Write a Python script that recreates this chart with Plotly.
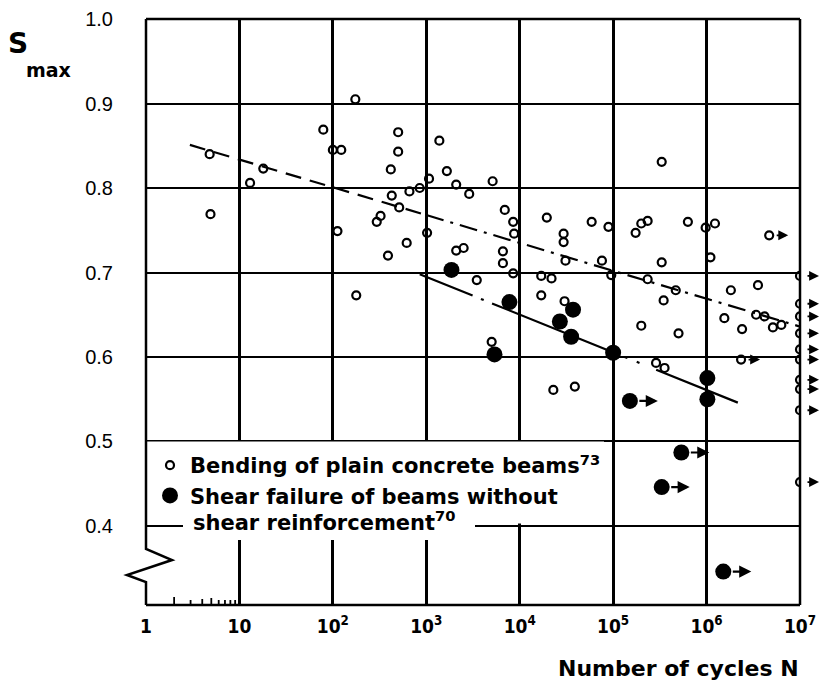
import numpy as np
import plotly.graph_objects as go

# ---------------- data ----------------
# Bending of plain concrete beams (ref 73): failures
bend_N = [4.8, 4.9, 18, 13, 79, 100, 123, 174, 112, 178,
          500, 500, 417, 1380, 1660, 1070, 850, 660, 427, 513,
          2090, 2880, 5130, 324, 295, 1020, 617, 389, 6920, 8510,
          8710, 6610, 6610, 8510, 2090, 2510, 3470, 19500, 17000, 21900,
          17000, 331000, 58900, 89100, 29500, 29500, 174000, 200000, 234000, 631000,
          977000, 1230000, 1100000, 30900, 75900, 331000, 95500, 234000, 468000, 347000,
          1820000, 1550000, 30200, 200000, 501000, 2400000, 3550000, 3390000, 4170000, 5130000,
          6310000, 5010, 288000, 355000, 22900, 38900]
bend_S = [0.840, 0.769, 0.823, 0.806, 0.869, 0.845, 0.845, 0.905, 0.749, 0.673,
          0.866, 0.843, 0.822, 0.856, 0.820, 0.811, 0.800, 0.796, 0.791, 0.777,
          0.804, 0.793, 0.808, 0.767, 0.760, 0.747, 0.735, 0.720, 0.774, 0.760,
          0.746, 0.725, 0.711, 0.699, 0.726, 0.729, 0.691, 0.765, 0.696, 0.693,
          0.673, 0.831, 0.760, 0.754, 0.746, 0.736, 0.747, 0.758, 0.761, 0.760,
          0.753, 0.758, 0.718, 0.714, 0.714, 0.712, 0.697, 0.692, 0.679, 0.667,
          0.679, 0.646, 0.666, 0.637, 0.628, 0.633, 0.685, 0.650, 0.648, 0.635,
          0.638, 0.618, 0.593, 0.587, 0.561, 0.565]
# Bending: run-outs (no failure, arrow)
bend_run_N = [4680000, 2340000, 1e7, 1e7, 1e7, 1e7, 1e7, 1e7, 1e7, 1e7, 1e7, 1e7]
bend_run_S = [0.744, 0.597, 0.696, 0.663, 0.648, 0.628, 0.609, 0.597, 0.573, 0.562, 0.537, 0.452]

# Shear failure of beams without shear reinforcement (ref 70)
shear_N = [1860, 7760, 37200, 26900, 35500, 100000, 5370, 1020000, 1020000]
shear_S = [0.703, 0.665, 0.656, 0.642, 0.624, 0.605, 0.603, 0.575, 0.550]
shear_run_N = [151000, 537000, 331000, 1510000]
shear_run_S = [0.548, 0.487, 0.446, 0.346]

# Fitted lines (end points)
bend_fit_a_N = [2.95, 1000]
bend_fit_a_S = [0.851, 0.768]
bend_fit_b_N = [1000, 1e7]
bend_fit_b_S = [0.768, 0.636]
shear_fit_N = [851, 2160000]
shear_fit_S = [0.698, 0.546]

x_tickvals = [1, 10, 100, 1000, 1e4, 1e5, 1e6, 1e7]
x_ticktext = ["1", "10", "10<sup>2</sup>", "10<sup>3</sup>", "10<sup>4</sup>",
              "10<sup>5</sup>", "10<sup>6</sup>", "10<sup>7</sup>"]
y_tickvals = [0.4, 0.5, 0.6, 0.7, 0.8, 0.9, 1.0]
y_ticktext = ["0.4", "0.5", "0.6", "0.7", "0.8", "0.9", "1.0"]

legend_names = ["Bending of plain concrete beams<sup>73</sup>",
                "Shear failure of beams without",
                "shear reinforcement<sup>70</sup>"]

# ---------------- layout geometry ----------------
OFF = 8                      # page body margin
W, H = 815, 675
PL, PT = 146, 19             # plot-area top-left in the screenshot
PW, PH = 654, 586
L, T = PL - OFF, PT - OFF
R, B = W - L - PW, H - T - PH
Y0, Y1 = 0.3065, 1.0


def px_x(p):
    return (p - PL) / PW


def px_y(p):
    return (PT + PH - p) / PH


def px_N(p):
    return 10 ** (7 * (p - PL) / PW)


BOLD = "DejaVu Sans, Verdana, sans-serif"
LEG_SIZE = 21

fig = go.Figure()

fig.add_trace(go.Scatter(
    x=bend_N + bend_run_N, y=bend_S + bend_run_S, mode="markers",
    name=legend_names[0],
    marker=dict(symbol="circle-open", size=8, color="black", line=dict(width=2.2, color="black")),
))
fig.add_trace(go.Scatter(
    x=shear_N + shear_run_N, y=shear_S + shear_run_S, mode="markers",
    name=legend_names[1],
    marker=dict(symbol="circle", size=16, color="black"),
))

fig.add_trace(go.Scatter(x=bend_fit_a_N, y=bend_fit_a_S, mode="lines", showlegend=False,
                         line=dict(color="black", width=2.2, dash="16px,9px")))
fig.add_trace(go.Scatter(x=bend_fit_b_N, y=bend_fit_b_S, mode="lines", showlegend=False,
                         line=dict(color="black", width=2.2, dash="18px,7px,3px,7px")))
fig.add_trace(go.Scatter(x=shear_fit_N, y=shear_fit_S, mode="lines", showlegend=False,
                         line=dict(color="black", width=2.2,
                                   dash="57px,9px,3px,9px,131px,12px,3px,10px,3px,18px,90px")))

annotations = []
for n, s in zip(bend_run_N, bend_run_S):
    annotations.append(dict(x=np.log10(n), y=s, xref="x", yref="y", text="", showarrow=True,
                            ax=-13, ay=0, xshift=19, arrowhead=2, arrowsize=1.1,
                            arrowwidth=1.8, arrowcolor="black"))
for n, s in zip(shear_run_N, shear_run_S):
    annotations.append(dict(x=np.log10(n), y=s, xref="x", yref="y", text="", showarrow=True,
                            ax=-20, ay=0, xshift=28, arrowhead=2, arrowsize=1.1,
                            arrowwidth=2.2, arrowcolor="black"))

annotations += [
    # continuation line of the second legend entry
    dict(x=px_x(191), y=px_y(521), xref="paper", yref="paper", text=legend_names[2],
         showarrow=False, xanchor="left", yanchor="middle",
         font=dict(family=BOLD, size=LEG_SIZE, color="black", weight="bold")),
    dict(x=px_x(18), y=px_y(43), xref="paper", yref="paper", text="S", showarrow=False,
         xanchor="center", yanchor="middle",
         font=dict(family=BOLD, size=28, color="black", weight="bold")),
    dict(x=px_x(48), y=px_y(70), xref="paper", yref="paper", text="max", showarrow=False,
         xanchor="center", yanchor="middle",
         font=dict(family=BOLD, size=19, color="black", weight="bold")),
    dict(x=px_x(801), y=px_y(668), xref="paper", yref="paper", text="Number of cycles N",
         showarrow=False, xanchor="right", yanchor="middle",
         font=dict(family=BOLD, size=22, color="black", weight="bold")),
]

shapes = []
# white boxes behind the legend (hide grid lines)
shapes.append(dict(type="rect", xref="x", yref="y", x0=1, x1=px_N(604), y0=0.403, y1=0.5,
                   fillcolor="white", line=dict(width=0), layer="between"))
shapes.append(dict(type="rect", xref="x", yref="y", x0=px_N(183), x1=px_N(475), y0=0.3835, y1=0.41,
                   fillcolor="white", line=dict(width=0), layer="between"))
# frame
shapes.append(dict(type="line", xref="paper", yref="paper", x0=0, x1=1, y0=1, y1=1,
                   line=dict(color="black", width=2.5)))
shapes.append(dict(type="line", xref="paper", yref="paper", x0=1, x1=1, y0=0, y1=1,
                   line=dict(color="black", width=2.5)))
shapes.append(dict(type="line", xref="paper", yref="paper", x0=0, x1=1, y0=0, y1=0,
                   line=dict(color="black", width=2.5)))
# left axis with break symbol
zig = [(146, 19), (146, 549), (172, 560), (127, 575), (146, 582), (146, 605)]
path = "M " + " L ".join(f"{px_x(a):.5f},{px_y(b):.5f}" for a, b in zig)
shapes.append(dict(type="path", xref="paper", yref="paper", path=path,
                   line=dict(color="black", width=2.5)))
# minor ticks in the first decade
tick_h = {2: 8, 3: 5, 4: 6, 5: 7, 6: 5, 7: 5, 8: 5, 9: 5}
for k, h in tick_h.items():
    shapes.append(dict(type="line", xref="x", yref="paper",
                       x0=k, x1=k, y0=0, y1=h / PH,
                       line=dict(color="black", width=1.8)))

fig.update_layout(
    width=W, height=H,
    margin=dict(l=L, r=R, t=T, b=B, pad=0, autoexpand=False),
    paper_bgcolor="white", plot_bgcolor="white",
    showlegend=True,
    legend=dict(x=4 / PW, y=px_y(445), xanchor="left", yanchor="top",
                bgcolor="rgba(0,0,0,0)", borderwidth=0,
                font=dict(family=BOLD, size=LEG_SIZE, color="black", weight="bold"),
                tracegroupgap=0),
    annotations=annotations,
    shapes=shapes,
    xaxis=dict(type="log", range=[0, 7], tickvals=x_tickvals, ticktext=x_ticktext,
               showgrid=True, gridcolor="black", gridwidth=2.5, zeroline=False,
               showline=False, ticks="", ticklabelstandoff=8, automargin=False,
               tickfont=dict(family="DejaVu Sans Condensed, DejaVu Sans, sans-serif", size=19,
                             color="black", weight="bold")),
    yaxis=dict(range=[Y0, Y1], tickvals=y_tickvals, ticktext=y_ticktext,
               showgrid=True, gridcolor="black", gridwidth=2, zeroline=False,
               showline=False, ticks="", ticklabelstandoff=32, automargin=False,
               tickfont=dict(family="Liberation Sans, Arial, sans-serif", size=20, color="black")),
)

fig.write_html("out.html")
